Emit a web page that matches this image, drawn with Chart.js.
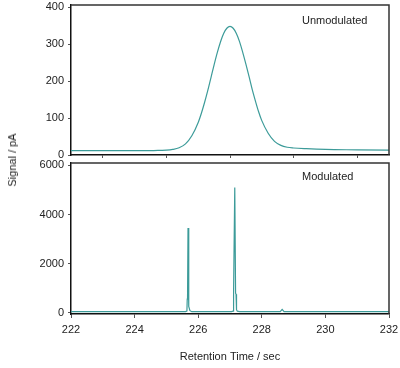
<!DOCTYPE html>
<html>
<head>
<meta charset="utf-8">
<script src="https://cdn.jsdelivr.net/npm/chart.js@4"></script>
<style>
  body { margin: 0; background: #fff; }
  #wrap { position: relative; width: 400px; height: 368px; overflow: hidden; }
  canvas { position: absolute; left: 0; }
  #topChart { top: 0; }
  #bottomChart { top: 160px; }
  #ylabel {
    position: absolute; left: 12px; top: 160px;
    transform: translate(-50%, -50%) rotate(-90deg);
    font: 11px 'Liberation Sans', Arial, sans-serif; color: #222; white-space: nowrap;
  }
</style>
</head>
<body>
<div id="wrap">
  <canvas id="topChart" width="400" height="162"></canvas>
  <canvas id="bottomChart" width="400" height="208"></canvas>
  <div id="ylabel">Signal / pA</div>
</div>
<script>
// Unmodulated trace (time in sec, signal in pA)
const unmodTime = [222, 223, 224, 224.6, 224.8, 225.0, 225.2, 225.4, 225.6, 225.8, 226.0, 226.1, 226.2, 226.3,
  226.4, 226.5, 226.6, 226.7, 226.8, 226.9, 227.0, 227.1, 227.2, 227.3, 227.4, 227.5, 227.6, 227.7, 227.8,
  227.9, 228.0, 228.2, 228.4, 228.6, 228.8, 229.0, 229.4, 230, 231, 232];
const unmodSignal = [12, 12, 12, 12, 12.5, 13, 15, 19.5, 30, 52, 88, 113, 142, 174,
  209, 244, 277, 306, 329, 343, 348, 343, 329, 307, 278, 246, 212, 177, 146,
  117, 93, 59, 37, 26, 21, 19, 17, 15, 14, 13];

// Modulated trace
const modTime = [222, 225.60, 225.645, 225.655, 225.665, 225.68, 225.695, 225.71, 225.74, 225.8,
  227.05, 227.095, 227.105, 227.12, 227.15, 227.175, 227.19, 227.205, 227.23, 227.3,
  228.58, 228.64, 228.70, 232];
const modSignal = [40, 40, 60, 550, 600, 3450, 1500, 250, 80, 40,
  40, 60, 750, 800, 5100, 800, 750, 120, 60, 40,
  40, 130, 40, 40];

const topYTicks = [0, 100, 200, 300, 400];
const bottomYTicks = [0, 2000, 4000, 6000];
const topMinorTicks = [223, 225, 227, 229, 231];
const xTicks = [222, 224, 226, 228, 230, 232];

const LINE_COLOR = '#3c9b99';
const TEXT_COLOR = '#222';
const FONT = { family: "'Liberation Sans', Arial, sans-serif", size: 11 };

function toPoints(xs, ys) {
  return xs.map((x, i) => ({ x, y: ys[i] }));
}

function fixedTicks(values) {
  return s => { s.ticks = values.map(v => ({ value: v })); };
}

// draws top/right frame lines and the panel caption
const framePlugin = {
  id: 'frame',
  afterDraw(chart, args, opts) {
    const { ctx, chartArea: a } = chart;
    ctx.save();
    ctx.strokeStyle = '#333';
    ctx.lineWidth = 1.5;
    ctx.beginPath();
    ctx.moveTo(a.left, a.top);
    ctx.lineTo(a.right, a.top);
    ctx.lineTo(a.right, a.bottom);
    ctx.stroke();
    ctx.fillStyle = TEXT_COLOR;
    ctx.font = `${FONT.size}px ${FONT.family}`;
    ctx.textBaseline = 'middle';
    ctx.fillText(opts.text, a.right - 87, a.top + opts.dy);
    ctx.restore();
  }
};

function yAxis(min, max, ticks) {
  return {
    min, max,
    border: { color: '#111', width: 1.5 },
    grid: { drawOnChartArea: false, drawTicks: true, tickLength: 3, color: '#555' },
    ticks: { padding: 4, color: TEXT_COLOR, font: FONT, callback: v => String(v) },
    afterBuildTicks: fixedTicks(ticks),
    afterFit: s => { s.width = 71; s.paddingTop = 0; s.paddingBottom = 0; }
  };
}

function renderPanel(canvasId, points, cfg) {
  const canvas = document.getElementById(canvasId);
  return new Chart(canvas, {
    type: 'line',
    data: {
      datasets: [{
        data: points,
        borderColor: LINE_COLOR,
        borderWidth: 1.2,
        pointRadius: 0,
        tension: cfg.smooth ? 0.4 : 0,
        cubicInterpolationMode: cfg.smooth ? 'monotone' : 'default',
        fill: false
      }]
    },
    options: {
      responsive: false,
      animation: false,
      devicePixelRatio: 1,
      layout: { padding: { top: cfg.padTop, right: 11, left: 0, bottom: 0 } },
      scales: {
        x: cfg.xScale,
        y: yAxis(cfg.yMin, cfg.yMax, cfg.yTicks)
      },
      plugins: {
        legend: { display: false },
        tooltip: { enabled: false },
        frame: { text: cfg.label, dy: cfg.labelDy }
      }
    },
    plugins: [framePlugin]
  });
}

renderPanel('topChart', toPoints(unmodTime, unmodSignal), {
  smooth: true, padTop: 5, yMin: 0, yMax: 406, yTicks: topYTicks,
  label: 'Unmodulated', labelDy: 16,
  xScale: {
    type: 'linear', min: 222, max: 232,
    border: { color: '#111', width: 1.5 },
    grid: { drawOnChartArea: false, drawTicks: true, tickLength: 3, color: '#555' },
    ticks: { display: false },
    afterBuildTicks: fixedTicks(topMinorTicks),
    afterFit: s => { s.height = 7; s.paddingLeft = 0; s.paddingRight = 0; }
  }
});

renderPanel('bottomChart', toPoints(modTime, modSignal), {
  smooth: false, padTop: 3, yMin: -55, yMax: 6100, yTicks: bottomYTicks,
  label: 'Modulated', labelDy: 14,
  xScale: {
    type: 'linear', min: 222, max: 232,
    border: { color: '#111', width: 1.5 },
    grid: { drawOnChartArea: false, drawTicks: true, tickLength: 4, color: '#555' },
    ticks: { padding: 5, color: TEXT_COLOR, font: FONT, autoSkip: false, maxRotation: 0 },
    afterBuildTicks: fixedTicks(xTicks),
    title: { display: true, text: 'Retention Time / sec', color: TEXT_COLOR, font: FONT, padding: { top: 0, bottom: 4 } },
    afterFit: s => { s.height = 54; s.paddingLeft = 0; s.paddingRight = 0; }
  }
});
</script>
</body>
</html>
